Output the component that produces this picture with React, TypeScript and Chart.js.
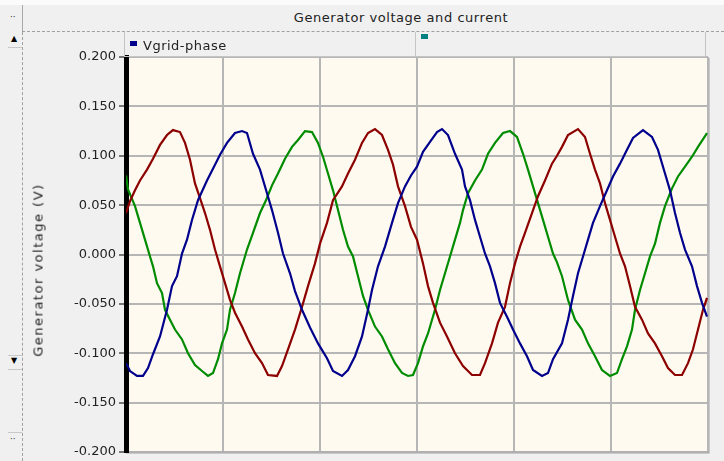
import React, { useEffect, useRef } from "react";
import { Chart, registerables } from "chart.js";

Chart.register(...registerables);

// ---- data (x in sample units across the window, y in volts) ----
const blueX = [0,4,11,17,22,27,34,41,46,51,56,61,66,72,81,89,94,101,109,116,121,127,134,141,146,152,157,164,169,176,184,192,201,207,216,222,229,236,242,246,252,259,266,272,279,285,291,297,304,311,316,322,329,336,339,344,349,354,359,364,369,374,381,387,394,401,407,416,422,427,436,442,447,452,457,462,467,474,481,487,494,501,507,517,526,532,539,544,549,554,559,566,571,576,581];
const blueY = [-0.110,-0.118,-0.123,-0.123,-0.115,-0.101,-0.083,-0.056,-0.032,-0.022,0.001,0.015,0.035,0.055,0.075,0.091,0.101,0.113,0.123,0.125,0.123,0.102,0.086,0.062,0.045,0.022,0.001,-0.019,-0.037,-0.056,-0.074,-0.090,-0.105,-0.118,-0.123,-0.117,-0.103,-0.083,-0.056,-0.036,-0.012,0.008,0.032,0.052,0.069,0.080,0.089,0.104,0.114,0.124,0.127,0.121,0.102,0.086,0.069,0.055,0.035,0.018,0.001,-0.012,-0.029,-0.049,-0.063,-0.076,-0.090,-0.103,-0.117,-0.123,-0.120,-0.106,-0.090,-0.066,-0.042,-0.019,-0.002,0.015,0.032,0.049,0.065,0.079,0.092,0.106,0.118,0.126,0.119,0.106,0.082,0.065,0.042,0.022,0.005,-0.012,-0.032,-0.049,-0.063];

const redX = [0,4,9,14,21,27,34,41,47,54,59,64,69,74,79,84,89,94,99,104,109,116,122,129,136,142,151,156,162,169,176,182,189,194,201,207,216,222,229,236,242,249,256,262,267,272,279,285,291,297,302,307,314,321,329,337,346,354,359,366,372,379,384,389,394,399,406,412,419,426,431,436,442,452,459,464,469,474,479,484,489,494,499,504,509,516,522,529,536,542,549,556,562,567,572,577,581];
const redY = [0.042,0.054,0.065,0.075,0.086,0.097,0.111,0.121,0.126,0.124,0.113,0.096,0.072,0.057,0.042,0.025,0.005,-0.012,-0.029,-0.046,-0.059,-0.073,-0.086,-0.100,-0.110,-0.122,-0.123,-0.113,-0.096,-0.076,-0.053,-0.032,-0.009,0.011,0.032,0.055,0.069,0.082,0.096,0.113,0.123,0.127,0.121,0.106,0.091,0.069,0.049,0.028,0.015,-0.009,-0.032,-0.049,-0.069,-0.083,-0.100,-0.113,-0.122,-0.122,-0.110,-0.090,-0.069,-0.053,-0.029,-0.009,0.008,0.022,0.042,0.059,0.075,0.092,0.100,0.109,0.121,0.127,0.119,0.102,0.086,0.072,0.052,0.035,0.018,0.001,-0.012,-0.032,-0.053,-0.066,-0.080,-0.090,-0.103,-0.115,-0.122,-0.122,-0.110,-0.096,-0.076,-0.056,-0.044];

const greenX = [0,2,9,14,19,24,27,31,36,39,44,49,56,62,69,76,82,87,92,96,101,104,109,114,121,127,134,140,146,152,159,166,172,179,186,192,197,202,207,212,217,222,227,232,237,242,249,256,262,269,276,282,287,292,297,302,309,314,319,324,329,334,337,342,349,356,362,369,377,384,391,397,402,407,412,417,422,427,431,436,442,449,456,462,469,476,484,491,496,501,506,509,514,519,524,529,534,539,546,552,559,566,572,581];
const greenY = [0.080,0.066,0.049,0.032,0.015,-0.002,-0.012,-0.029,-0.039,-0.056,-0.066,-0.076,-0.086,-0.100,-0.112,-0.118,-0.123,-0.120,-0.106,-0.090,-0.076,-0.056,-0.039,-0.019,0.005,0.022,0.042,0.055,0.070,0.082,0.097,0.109,0.116,0.125,0.124,0.113,0.099,0.082,0.065,0.045,0.025,0.008,-0.002,-0.022,-0.042,-0.056,-0.073,-0.083,-0.096,-0.110,-0.120,-0.123,-0.122,-0.110,-0.093,-0.080,-0.056,-0.036,-0.019,-0.002,0.015,0.032,0.045,0.062,0.075,0.086,0.102,0.113,0.123,0.125,0.119,0.102,0.086,0.069,0.052,0.035,0.018,0.001,-0.008,-0.022,-0.046,-0.066,-0.076,-0.090,-0.103,-0.117,-0.123,-0.120,-0.106,-0.093,-0.076,-0.056,-0.036,-0.019,-0.002,0.011,0.032,0.049,0.067,0.079,0.089,0.099,0.109,0.123];

const xMin = 0;
const xMax = 582;
const xStep = 97;
const yMin = -0.2;
const yMax = 0.2;
const yStep = 0.05;

const chartTitle = "Generator voltage and current";
const yTitle = "Generator voltage (V)";
const legendLabel = "Vgrid-phase";

const toPoints = (xs: number[], ys: number[]) => xs.map((x, i) => ({ x, y: ys[i] }));

const FONT = "'DejaVu Sans', 'Liberation Sans', sans-serif";

const bgPlugin = {
  id: "plotBg",
  beforeDraw(chart: any) {
    const { ctx, chartArea } = chart;
    if (!chartArea) return;
    ctx.save();
    ctx.fillStyle = "#fffaf0";
    ctx.fillRect(chartArea.left, chartArea.top, chartArea.right - chartArea.left, chartArea.bottom - chartArea.top);
    ctx.restore();
  },
  afterDraw(chart: any) {
    const { ctx, chartArea } = chart;
    ctx.save();
    ctx.strokeStyle = "#c8c8c8";
    ctx.lineWidth = 1;
    ctx.beginPath();
    ctx.moveTo(chartArea.right + 1.5, chartArea.top + 1);
    ctx.lineTo(chartArea.right + 1.5, chartArea.bottom + 1.5);
    ctx.lineTo(chartArea.left, chartArea.bottom + 1.5);
    ctx.stroke();
    ctx.restore();
  },
};

export default function App() {
  const canvasRef = useRef<HTMLCanvasElement | null>(null);

  useEffect(() => {
    if (!canvasRef.current) return;
    const chart = new Chart(canvasRef.current, {
      type: "line",
      data: {
        datasets: [
          { label: "blue", data: toPoints(blueX, blueY), borderColor: "#00008c", borderWidth: 2.2, pointRadius: 0, tension: 0 },
          { label: "red", data: toPoints(redX, redY), borderColor: "#8c0000", borderWidth: 2.2, pointRadius: 0, tension: 0 },
          { label: "green", data: toPoints(greenX, greenY), borderColor: "#008c00", borderWidth: 2.2, pointRadius: 0, tension: 0 },
        ],
      },
      options: {
        animation: false,
        responsive: false,
        devicePixelRatio: 1,
        layout: { padding: { left: 28, top: 57, right: 16, bottom: 9 } },
        plugins: { legend: { display: false }, title: { display: false }, tooltip: { enabled: false } },
        scales: {
          x: {
            type: "linear",
            min: xMin,
            max: xMax,
            ticks: { display: false, stepSize: xStep },
            grid: { color: "#b6b6b6", lineWidth: 2, drawTicks: false },
            border: { display: true, color: "#b0b0b0", width: 2 },
            afterFit: (s: any) => { s.height = 0; s.paddingLeft = 0; s.paddingRight = 0; },
          },
          y: {
            min: yMin,
            max: yMax,
            ticks: {
              stepSize: yStep,
              padding: 3,
              color: "#222",
              font: { family: FONT, size: 13 },
              callback: (v: any) => (Math.abs(Number(v)) < 1e-9 ? "0.000" : Number(v).toFixed(3)),
            },
            grid: { color: "#b6b6b6", lineWidth: 2, tickColor: "#000", tickLength: 7, tickWidth: 1 },
            border: { display: true, color: "#000", width: 5 },
            afterFit: (s: any) => { s.width = 98; s.paddingTop = 0; s.paddingBottom = 0; },
          },
        },
      } as any,
      plugins: [bgPlugin],
    });
    return () => chart.destroy();
  }, []);

  const txt: React.CSSProperties = { fontFamily: FONT, fontSize: 13, color: "#222", position: "absolute", whiteSpace: "nowrap" };

  return (
    <div style={{ position: "fixed", left: 0, top: 0, width: 724, height: 461, overflow: "hidden", background: "#f0f0f0" }}>
      {/* top strip */}
      <div style={{ position: "absolute", left: 0, top: 0, width: 724, height: 5, background: "#fbfbfb" }} />
      {/* left panel lines */}
      <div style={{ position: "absolute", left: 22, top: 5, width: 1, height: 27, background: "#a8a8a8" }} />
      <div style={{ position: "absolute", left: 22, top: 32, width: 0, height: 429, borderLeft: "1px dashed #a0a0a0" }} />
      <div style={{ position: "absolute", left: 22, top: 31, width: 702, height: 0, borderTop: "1px dashed #a0a0a0" }} />
      <div style={{ ...txt, left: 10, top: 12, fontSize: 9, color: "#333" }}>··</div>
      <div style={{ ...txt, left: 10, top: 434, fontSize: 9, color: "#333" }}>··</div>
      <div style={{ position: "absolute", left: 8, top: 33, width: 14, height: 14, borderBottom: "1px solid #c8c8c8" }} />
      <div style={{ ...txt, left: 11, top: 34, fontSize: 8, color: "#000" }}>▲</div>
      <div style={{ position: "absolute", left: 8, top: 355, width: 14, height: 13, borderTop: "1px solid #c8c8c8", borderBottom: "1px solid #c8c8c8" }} />
      <div style={{ ...txt, left: 11, top: 356, fontSize: 8, color: "#000" }}>▼</div>
      <div style={{ position: "absolute", left: 8, top: 432, width: 14, height: 0, borderTop: "1px solid #c8c8c8" }} />

      {/* title */}
      <div style={{ ...txt, left: 22, width: 702, top: 10, textAlign: "center", letterSpacing: 0.55, paddingLeft: 56, boxSizing: "border-box" }}>{chartTitle}</div>

      <canvas ref={canvasRef} width={724} height={461} style={{ position: "absolute", left: 0, top: 0, width: 724, height: 461 }} />

      {/* legend boxes */}
      <div style={{ position: "absolute", left: 124, top: 32, width: 290, height: 24, borderLeft: "1px solid #c4c4c4", borderRight: "1px solid #c4c4c4", borderBottom: "1px solid #c4c4c4" }} />
      <div style={{ position: "absolute", left: 415, top: 32, width: 290, height: 24, borderRight: "1px solid #c4c4c4", borderBottom: "1px solid #c4c4c4" }} />
      <div style={{ position: "absolute", left: 130, top: 41, width: 7, height: 5, background: "#00008c" }} />
      <div style={{ ...txt, left: 143, top: 38, letterSpacing: 0.5 }}>{legendLabel}</div>
      <div style={{ position: "absolute", left: 421, top: 34, width: 7, height: 5, background: "#008080" }} />

      {/* y axis title */}
      <div style={{ ...txt, left: 38, top: 270, transform: "translate(-50%, -50%) rotate(-90deg)", letterSpacing: 1.5 }}>{yTitle}</div>
    </div>
  );
}
